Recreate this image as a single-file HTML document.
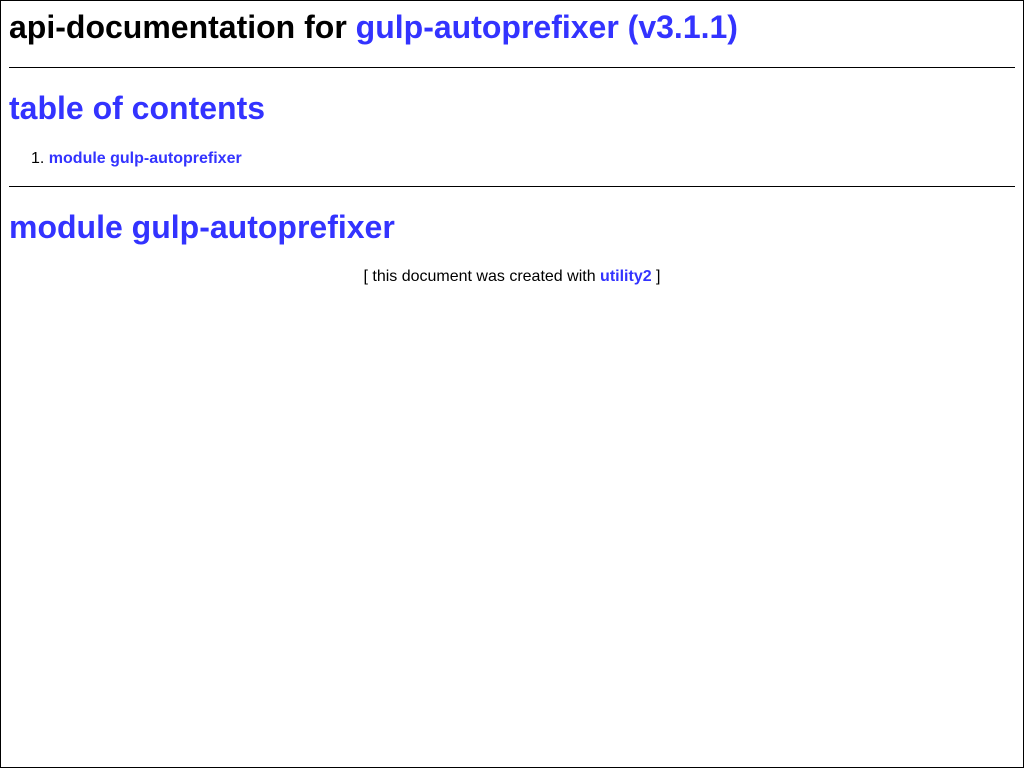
<!DOCTYPE html>
<html><head><meta charset="utf-8"><style>
html,body{margin:0;padding:0;background:#fff;}
body{width:1024px;height:768px;position:relative;overflow:hidden;font-family:"Liberation Sans",Arial,sans-serif;}
.frame{position:absolute;left:0;top:0;width:1022px;height:766px;border:1px solid #000;}
.a{position:absolute;white-space:nowrap;}
.l{color:#3333ff;}
.h{font-size:32px;font-weight:bold;line-height:32px;}
.hr{position:absolute;left:9px;width:1006px;height:1px;background:#000;}
</style></head><body>
<div class="frame"></div>
<div class="a h" style="left:9px;top:11px;">api-documentation for <span class="l">gulp-autoprefixer (v3.1.1)</span></div>
<div class="hr" style="top:67px;"></div>
<div class="a h l" style="left:9px;top:92px;">table of contents</div>
<div class="a" style="left:31px;top:151px;font-size:16px;line-height:16px;">1. <span class="l" style="font-weight:bold;">module gulp-autoprefixer</span></div>
<div class="hr" style="top:186px;"></div>
<div class="a h l" style="left:9px;top:211px;">module gulp-autoprefixer</div>
<div class="a" style="left:0;width:1024px;text-align:center;top:269px;font-size:16px;line-height:16px;">[ this document was created with <span class="l" style="font-weight:bold;">utility2</span> ]</div>
</body></html>
